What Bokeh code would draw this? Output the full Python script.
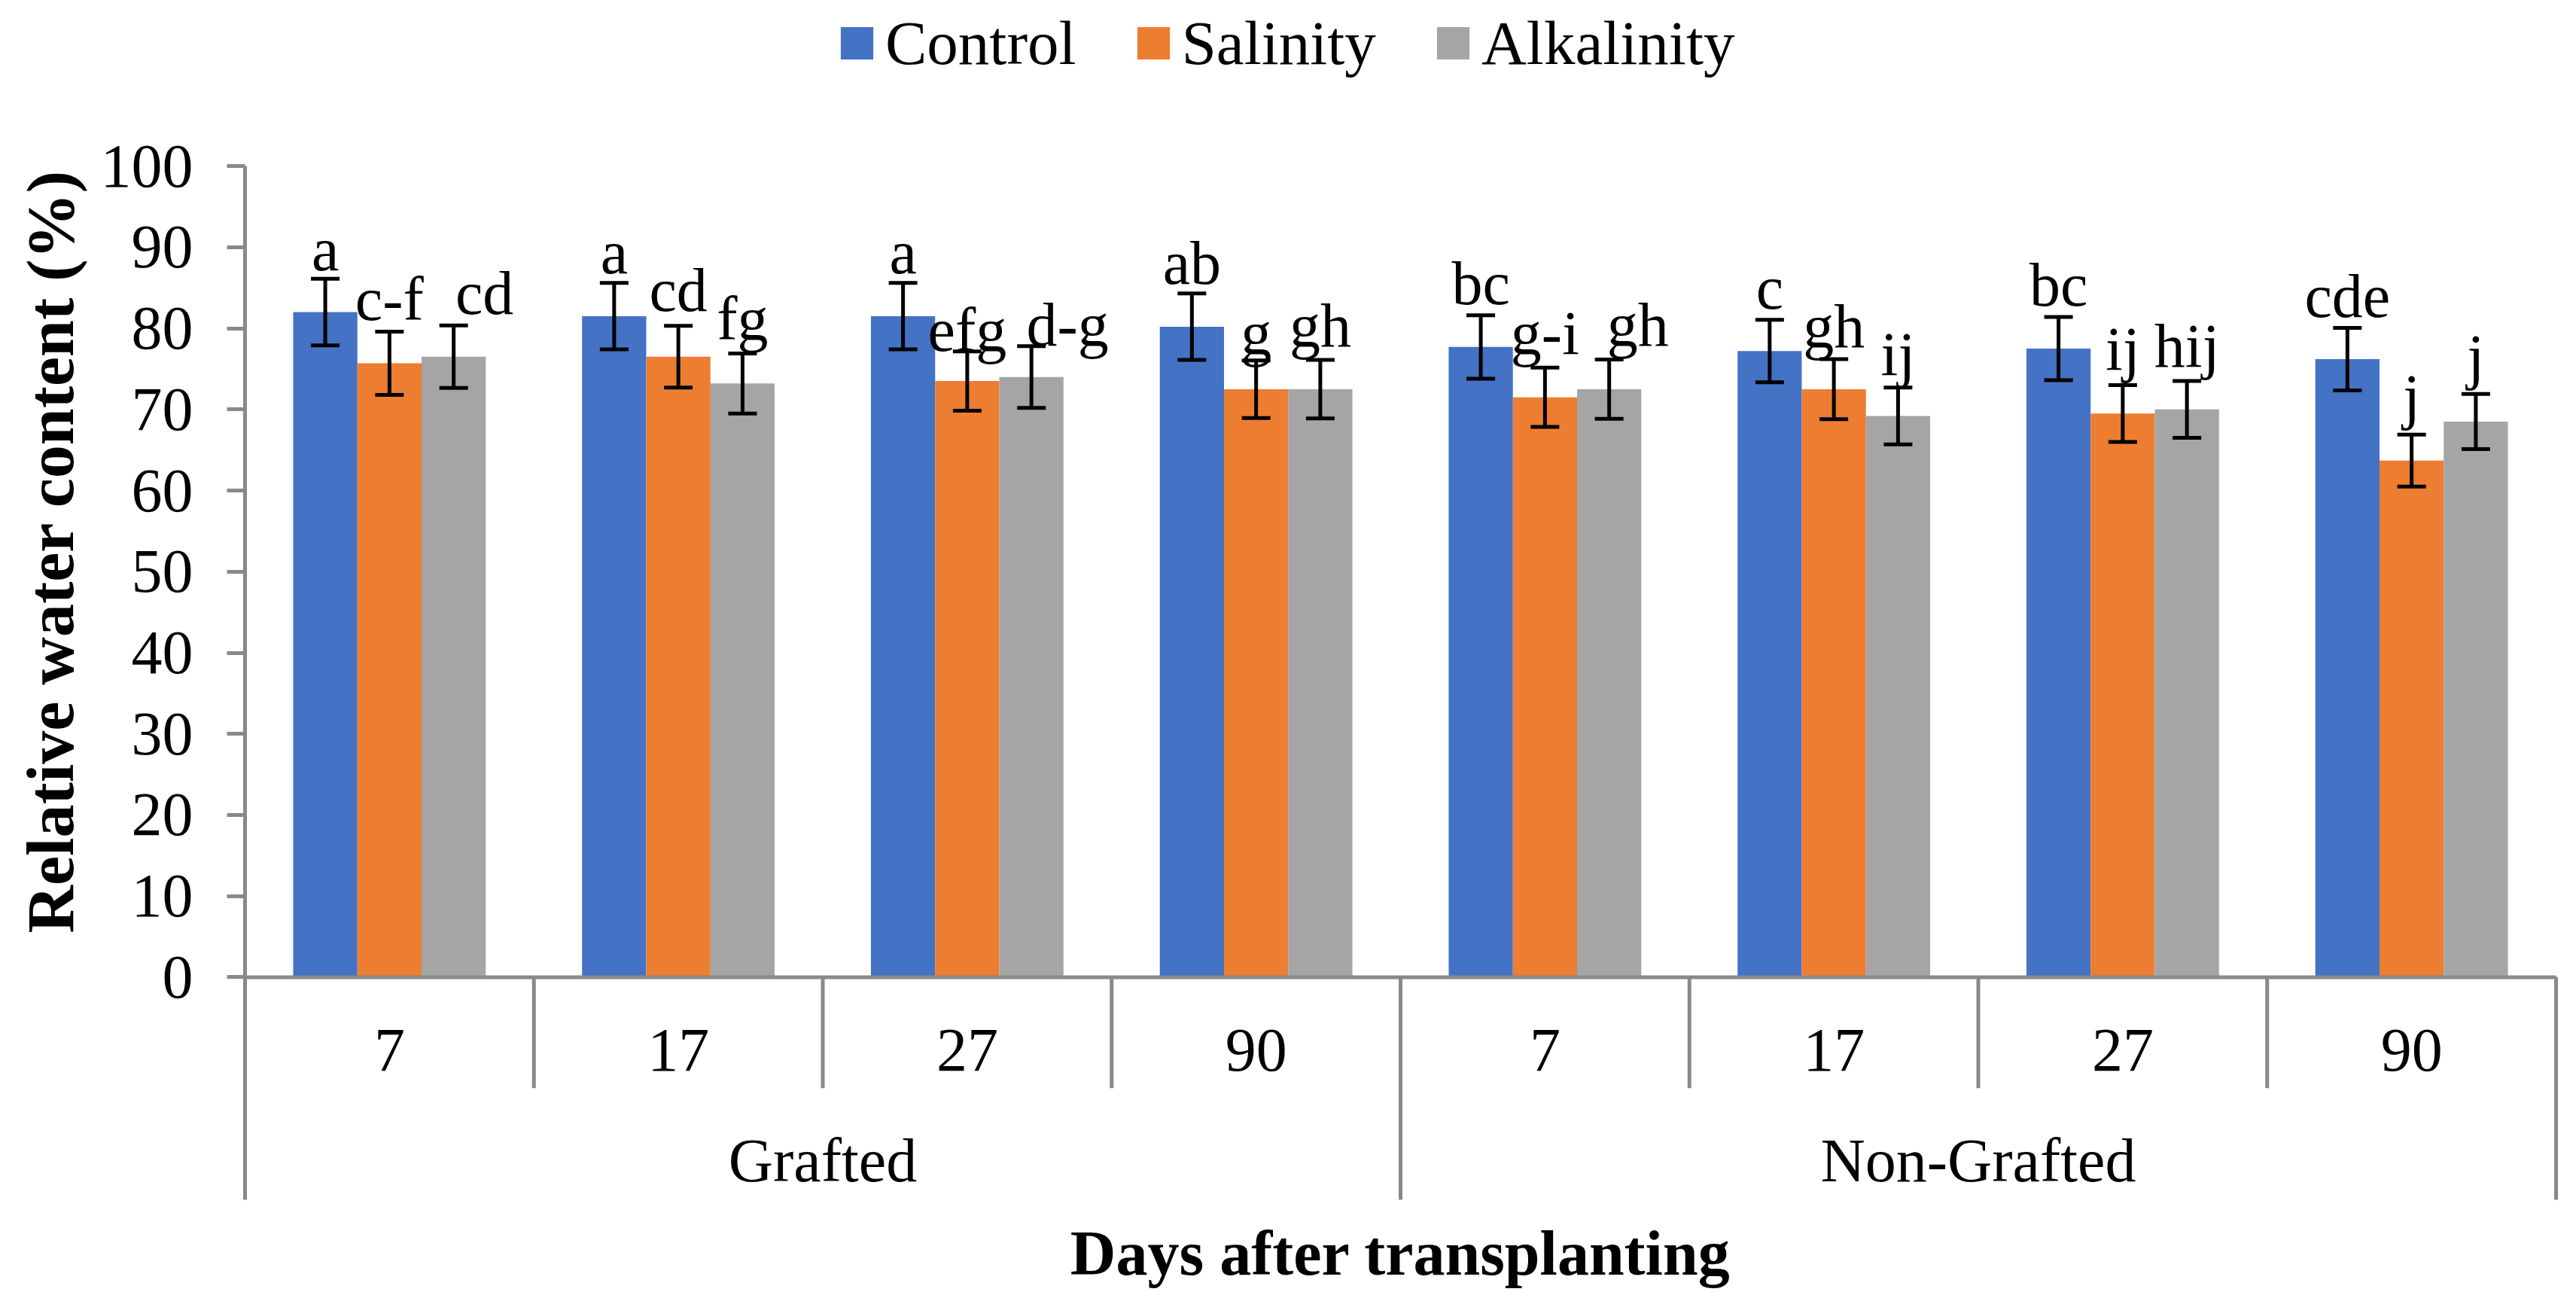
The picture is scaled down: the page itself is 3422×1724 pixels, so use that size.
from bokeh.plotting import figure
from bokeh.models import (FactorRange, Range1d, ColumnDataSource, Whisker, TeeHead,
                          Legend, LegendItem, LinearAxis, FixedTicker, Span, Title)
from bokeh.transform import dodge
from bokeh.core.properties import value
from bokeh.embed import file_html
from bokeh.resources import INLINE

# ---------------- data ----------------
groups = ["Grafted", "Non-Grafted"]
days = ["7", "17", "27", "90"]
series_names = ["Control", "Salinity", "Alkalinity"]

control = [82.0, 81.5, 81.5, 80.2, 77.7, 77.2, 77.5, 76.2]
salinity = [75.7, 76.5, 73.5, 72.5, 71.5, 72.5, 69.5, 63.7]
alkalinity = [76.5, 73.2, 74.0, 72.5, 72.5, 69.2, 70.0, 68.5]

err_control = [4.1, 4.1, 4.1, 4.1, 3.9, 3.85, 3.9, 3.85]
err_salinity = [3.9, 3.8, 3.65, 3.55, 3.65, 3.7, 3.5, 3.2]
err_alkalinity = [3.85, 3.7, 3.8, 3.6, 3.65, 3.5, 3.5, 3.4]

letters_control = ["a", "a", "a", "ab", "bc", "c", "bc", "cde"]
letters_salinity = ["c-f", "cd", "efg", "g", "g-i", "gh", "ij", "j"]
letters_alkalinity = ["cd", "fg", "d-g", "gh", "gh", "ij", "hij", "j"]

x_title = "Days after transplanting"
y_title = "Relative water content (%)"

# ---------------- layout / style ----------------
# manual nudges of the significance letters (screen px): right shift, lift above error bar
label_dx = {
    "Control": [0, 0, 0, 0, 0, 0, 0, 0],
    "Salinity": [0, 0, 0, 0, 0, 0, 0, 0],
    "Alkalinity": [41, 0, 48, 0, 38, 0, 0, 0],
}
label_lift = {
    "Control": [11, 12, 12, 12, 14, 14, 14, 14],
    "Salinity": [15, 19, 0, 8, 18, 16, 20, 23],
    "Alkalinity": [15, 18, 0, 18, 18, 16, 19, 22],
}
HALF_CAP = 28  # px between baseline and visual middle of 82px text

colors = ["#4472C4", "#ED7D31", "#A5A5A5"]
axis_gray = "#898989"
FONT = "Liberation Serif"
BAR_W = 2 / 9
Y_FRAME_BOTTOM = -39.59
Y_FRAME_TOP = 120.43
TABLE_BOTTOM = -27.43
SHORT_SEP = -13.67
DAY_LABEL_Y = -8.96
GROUP_LABEL_Y = -22.65
X_TITLE_Y = -34.06

factors = [(g, d) for g in groups for d in days]

p = figure(
    x_range=FactorRange(*factors, factor_padding=0, group_padding=0, subgroup_padding=0,
                        range_padding=0),
    y_range=Range1d(Y_FRAME_BOTTOM, Y_FRAME_TOP),
    width=3422, height=1724,
    output_backend="svg", toolbar_location=None,
    x_axis_location=None, y_axis_location=None,
    min_border_left=325, min_border_right=27, min_border_top=0, min_border_bottom=0,
)
p.outline_line_color = None
p.xgrid.visible = False
p.ygrid.visible = False
p.background_fill_color = "white"

vals = [control, salinity, alkalinity]
errs = [err_control, err_salinity, err_alkalinity]
lets = [letters_control, letters_salinity, letters_alkalinity]
offsets = [-BAR_W, 0.0, BAR_W]

renderers = []
for name, v, e, lt, off, col in zip(series_names, vals, errs, lets, offsets, colors):
    src = ColumnDataSource(dict(
        x=factors, top=v,
        upper=[a + b for a, b in zip(v, e)],
        lower=[a - b for a, b in zip(v, e)],
        label=lt,
        dx=label_dx[name],
        dy=[-(d + HALF_CAP) for d in label_lift[name]],
    ))
    r = p.vbar(x=dodge("x", off, range=p.x_range), top="top", bottom=0, width=BAR_W,
               source=src, fill_color=col, line_color=None)
    renderers.append(r)
    w = Whisker(base=dodge("x", off, range=p.x_range), upper="upper", lower="lower",
                source=src, dimension="height", line_color="black", line_width=5,
                level="annotation",
                upper_head=TeeHead(size=38, line_width=5, line_color="black"),
                lower_head=TeeHead(size=38, line_width=5, line_color="black"))
    p.add_layout(w)
    p.text(x=dodge("x", off, range=p.x_range), y="upper", text="label", source=src,
           x_offset="dx", y_offset="dy",
           text_font=value(FONT), text_font_size="82px", text_color="black",
           text_align="center", text_baseline="middle")

# horizontal axis line at 0
p.add_layout(Span(location=0, dimension="width", line_color=axis_gray, line_width=5))

# category separators
short_x = [(g, d) for g in groups for d in days[:-1]]
sep_short = ColumnDataSource(dict(x=short_x, y0=[0] * len(short_x), y1=[SHORT_SEP] * len(short_x)))
p.segment(x0=dodge("x", 0.5, range=p.x_range), y0="y0",
          x1=dodge("x", 0.5, range=p.x_range), y1="y1",
          source=sep_short, line_color=axis_gray, line_width=5)
sep_long = ColumnDataSource(dict(x=[(groups[0], days[-1])], y0=[0], y1=[TABLE_BOTTOM]))
p.segment(x0=dodge("x", 0.5, range=p.x_range), y0="y0",
          x1=dodge("x", 0.5, range=p.x_range), y1="y1",
          source=sep_long, line_color=axis_gray, line_width=5)

# day and group labels
day_src = ColumnDataSource(dict(x=factors, y=[DAY_LABEL_Y] * len(factors), t=[f[1] for f in factors]))
p.text(x="x", y="y", text="t", source=day_src, text_font=value(FONT), text_font_size="82px",
       text_color="black", text_align="center", text_baseline="middle")
grp_src = ColumnDataSource(dict(x=groups, y=[GROUP_LABEL_Y] * len(groups), t=groups))
p.text(x="x", y="y", text="t", source=grp_src, text_font=value(FONT), text_font_size="82px",
       text_color="black", text_align="center", text_baseline="middle")

# x-axis title, centred under the whole category table
xt_src = ColumnDataSource(dict(x=[(groups[0], days[-1])], y=[X_TITLE_Y], t=[x_title]))
p.text(x=dodge("x", 0.5, range=p.x_range), y="y", text="t", source=xt_src,
       text_font=value(FONT), text_font_size="84px", text_font_style="bold",
       text_color="black", text_align="center", text_baseline="middle")

# y axis
yaxis = LinearAxis(
    ticker=FixedTicker(ticks=list(range(0, 101, 10))),
    bounds=(TABLE_BOTTOM, 100),
    major_label_text_font=FONT, major_label_text_font_size="82px",
    major_label_text_color="black", major_label_standoff=45,
    axis_line_color=axis_gray, axis_line_width=5,
    major_tick_line_color=axis_gray, major_tick_line_width=5,
    major_tick_out=24, major_tick_in=0,
    minor_tick_line_color=None,
)
p.add_layout(yaxis, "left")

# y-axis title: starts near the bottom of the value axis and reads upwards
p.add_layout(Title(text=y_title, align="left", offset=485, standoff=30,
                   text_font=FONT, text_font_size="88px", text_font_style="bold",
                   text_color="black"), "left")

# right end line of the category table
raxis = LinearAxis(ticker=FixedTicker(ticks=[]), bounds=(TABLE_BOTTOM, 0),
                   axis_line_color=axis_gray, axis_line_width=5,
                   major_tick_line_color=None, minor_tick_line_color=None,
                   major_label_text_font_size="0px")
p.add_layout(raxis, "right")

# legend
legend = Legend(
    items=[LegendItem(label=n, renderers=[r]) for n, r in zip(series_names, renderers)],
    orientation="horizontal", location=(786, 1619),
    glyph_width=54, glyph_height=54, label_standoff=11, spacing=75,
    padding=0, margin=0, border_line_color=None, background_fill_alpha=0,
    label_text_font=FONT, label_text_font_size="83px", label_text_color="black",
)
p.add_layout(legend, "center")

open("out.html", "w").write(file_html(p, INLINE))
